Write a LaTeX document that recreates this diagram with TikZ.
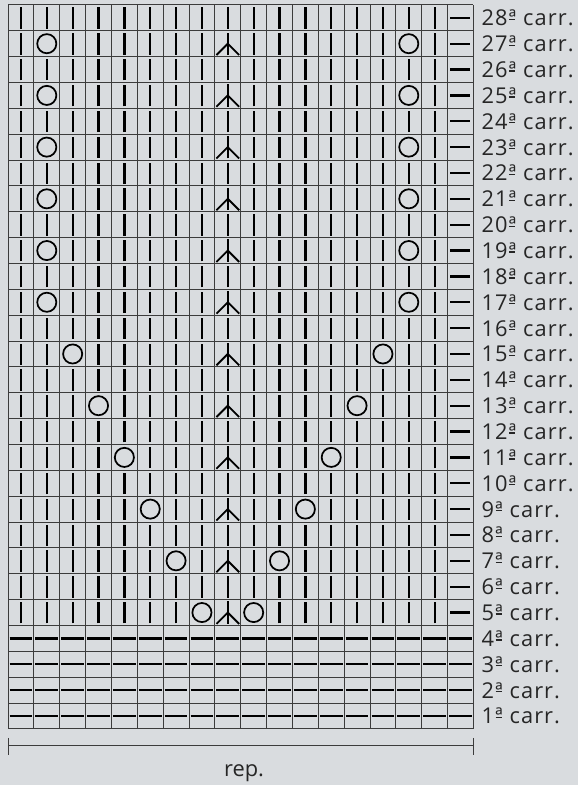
\documentclass[tikz,border=0pt]{standalone}
\usepackage{fontspec}
\setmainfont{Open Sans}
\usetikzlibrary{positioning}
\usepackage{xcolor}
\definecolor{chbg}{HTML}{D9DCDF}
\definecolor{chgrid}{HTML}{3C3C3C}
\definecolor{chtext}{HTML}{262626}
\newcommand{\ordA}{ª\kern-0.05em\llap{\rule[0.27em]{0.28em}{0.055em}}\kern0.05em}

\begin{document}
\begin{tikzpicture}[x=0.5cm, y=0.5cm,
    gridline/.style={draw=chgrid, line width=0.55pt},
    knit/.style={black, line width=1.25pt},
    purl/.style={black, line width=1.25pt},
    yarnover/.style={circle, draw=black, line width=0.95pt, minimum size=0.37cm, inner sep=0pt},
    decrease/.style={black, line width=1.0pt},
    rowlabel/.style={anchor=base west, inner sep=0pt, text=chtext,
                     font=\addfontfeature{LetterSpace=5}\fontsize{12}{14}\selectfont},
    replabel/.style={anchor=base, inner sep=0pt, text=chtext, font=\fontsize{12}{14}\selectfont}
  ]
    \fill[chbg] (-0.31,-2.17) rectangle (22.05,28.19);
    \useasboundingbox (-0.31,-2.17) rectangle (22.05,28.19);
    \foreach \c in {0,...,18}
      \draw[gridline] (\c,0) -- (\c,28);
    \foreach \r in {0,...,28}
      \draw[gridline] (0,\r) -- (18,\r);
    \foreach \r in {1,...,4}{
      \foreach \c in {1,...,18}
        \draw[purl] (\c-0.94,\r-0.5) -- (\c-0.06,\r-0.5);
    }
    \foreach \r in {5,...,28}{
      \pgfmathtruncatemacro{\lc}{isodd(\r) ? max(2,8-(\r-5)/2) : 0}
      \pgfmathtruncatemacro{\rc}{\lc>0 ? 18-\lc : 0}
      \foreach \c in {1,...,17}{
        \pgfmathtruncatemacro{\kind}{(\c==\lc || \c==\rc) ? 1 : ((isodd(\r) && \c==9) ? 2 : 0)}
        \ifcase\kind
          \draw[knit] (\c-0.5,\r-0.92) -- (\c-0.5,\r-0.1);
        \or
          \node[yarnover] (yo-\r-\c) at (\c-0.5,\r-0.5) {};
        \or
          \draw[decrease] (\c-0.5,\r-0.94) -- (\c-0.5,\r-0.07);
          \draw[decrease] (\c-0.94,\r-0.94) -- (\c-0.5,\r-0.5) -- (\c-0.06,\r-0.94);
        \fi
      }
      \draw[purl] (17.1,\r-0.5) -- (17.88,\r-0.5);
    }
    \foreach \r in {1,...,28}
      \node[rowlabel] (lbl\r) at (18.3,\r-0.81) {\r\ordA\ carr.};
    \coordinate (repL) at (0,-0.64);
    \coordinate (repR) at (18,-0.64);
    \draw[gridline] (repL) -- (repR);
    \draw[gridline] ([yshift=0.145cm]repL) -- ([yshift=-0.18cm]repL);
    \draw[gridline] ([yshift=0.145cm]repR) -- ([yshift=-0.18cm]repR);
    \node[replabel] (rep) at (9.13,-1.845) {rep.};
  \end{tikzpicture}
\end{document}
